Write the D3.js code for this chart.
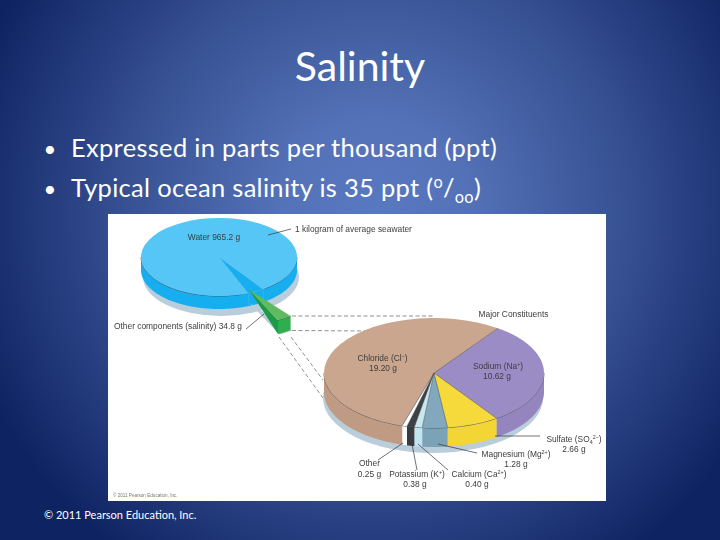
<!DOCTYPE html>
<html>
<head>
<meta charset="utf-8">
<style>html,body{margin:0;padding:0;background:#14296a}svg{display:block}</style>
<script src="https://cdn.jsdelivr.net/npm/d3@7"></script>
</head>
<body>
<svg id="c" width="720" height="540"></svg>
<script>
// ---- data ----
const outerNames = ["Water", "Other components (salinity)"];
const outerGrams = [965.2, 34.8];
const innerNames = ["Sodium", "Sulfate", "Magnesium", "Calcium", "Potassium", "Other", "Chloride"];
const innerGrams = [10.62, 2.66, 1.28, 0.40, 0.38, 0.25, 19.20];
const innerTop  = ["#9c8cc6", "#f6d93b", "#82a8be", "#c8e8f0", "#3e4145", "#ffffff", "#caa68e"];
const innerSide = ["#9485bf", "#f3d534", "#7ba2b8", "#c2e4ee", "#383b3f", "#fbfbfb", "#bf9b83"];
const slideTitle = "Salinity";
const slideFooter = "\u00a9 2011 Pearson Education, Inc.";
const panelCredit = "\u00a9 2011 Pearson Education, Inc.";
const bulletLines = ["Expressed in parts per thousand (ppt)", "Typical ocean salinity is 35 ppt (^o^/_oo_)"];
const labelTexts = ["Water 965.2 g", "1 kilogram of average seawater", "Other components (salinity) 34.8 g",
  "Major Constituents", "Chloride (Cl^\u2212^)", "19.20 g", "Sodium (Na^+^)", "10.62 g",
  "Sulfate (SO_4_^2\u2212^)", "2.66 g", "Magnesium (Mg^2+^)", "1.28 g", "Other", "0.25 g",
  "Potassium (K^+^)", "0.38 g", "Calcium (Ca^2+^)", "0.40 g"];

// ---- layout ----
const labelPos = [[214,240],[353.5,232],[178,329],[513.5,317],[382.5,361],[383,371],[498,369],[497,379],
  [574,442],[574,452],[516,457],[516,467],[369.5,466],[369.5,477],[417,477],[415,487],[479,477],[477,487]];
const leaders = [[[268,235],[291,229]],[[246,329],[264,314]],[[495,436],[540,436]],[[438,444],[477,453]],
  [[403,443],[378,460]],[[412,444],[417,470]],[[418,444],[448,470]]];
const dashes = [[[292,316],[434,316]],[[292,330.5],[368,331]],[[279,337],[323,398]],[[291,337],[323,380]]];
const rad = d => d * Math.PI / 180;
const svg = d3.select("#c");
const defs = svg.append("defs");
const grad = defs.append("radialGradient").attr("id","bg").attr("gradientUnits","userSpaceOnUse")
  .attr("cx",375).attr("cy",215).attr("r",425);
[[0,"#5878c0"],[0.22,"#5472b8"],[0.55,"#3a5596"],[0.85,"#1d3374"],[1,"#0e2361"]].forEach(s =>
  grad.append("stop").attr("offset",s[0]).attr("stop-color",s[1]));
defs.append("filter").attr("id","soft").attr("x","0").attr("y","0").attr("width","1").attr("height","1")
  .append("feGaussianBlur").attr("stdDeviation",0.42);

svg.append("rect").attr("width",720).attr("height",540).attr("fill","url(#bg)");

// slide text
const FONT = "Lato, 'Open Sans', sans-serif";
function rich(sel, s, shrink) {
  // ^x^ superscript, _x_ subscript
  const parts = s.split(/(\^[^^]*\^|_[^_]*_)/).filter(p => p.length);
  let shift = 0;
  parts.forEach(p => {
    let d = 0, t = p, small = false;
    if (p[0] === "^") { d = -shrink; t = p.slice(1,-1); small = true; }
    else if (p[0] === "_") { d = shrink * 0.7; t = p.slice(1,-1); small = true; }
    const ts = sel.append("tspan").text(t).attr("dy", d - shift);
    if (small) ts.attr("font-size", "64%");
    shift = d;
  });
}
svg.append("text").attr("x",360).attr("y",81).attr("text-anchor","middle").attr("fill","#fff")
  .attr("font-family",FONT).attr("font-size",41).text(slideTitle);
bulletLines.forEach((b,i) => {
  const y = 157 + i*40;
  svg.append("text").attr("x",43.5).attr("y",y).attr("fill","#fff").attr("font-family",FONT).attr("font-size",22).text("\u2022");
  const t = svg.append("text").attr("x",71).attr("y",y).attr("fill","#fff").attr("font-family",FONT)
    .attr("font-size",25.5).attr("letter-spacing",0.3);
  rich(t, b, 9);
});
svg.append("text").attr("x",44).attr("y",519).attr("fill","#fff").attr("font-family",FONT).attr("font-size",11).text(slideFooter);

// panel
const g = svg.append("g").attr("filter","url(#soft)");
g.append("rect").attr("x",108).attr("y",214).attr("width",498).attr("height",287).attr("fill","#fff");

g.selectAll("line.dash").data(dashes).join("line").attr("class","dash")
  .attr("x1",d=>d[0][0]).attr("y1",d=>d[0][1]).attr("x2",d=>d[1][0]).attr("y2",d=>d[1][1])
  .attr("stroke","#444").attr("stroke-width",0.6).attr("stroke-dasharray","4 2.5");

// 3-D pie helpers
function pieOf(values, startDeg) {
  return d3.pie().sort(null).value(d=>d).startAngle(rad(startDeg)).endAngle(rad(startDeg)+2*Math.PI)(values);
}
function topFace(parent, d, P, fill, stroke) {
  return parent.append("path")
    .attr("d", d3.arc().innerRadius(0).outerRadius(P.rx)({startAngle:d.startAngle,endAngle:d.endAngle}))
    .attr("transform",`translate(${P.cx},${P.cy}) scale(1,${P.ry/P.rx})`)
    .attr("fill",fill).attr("stroke",stroke||"none").attr("stroke-width",0.5).attr("vector-effect","non-scaling-stroke");
}
function rim(parent, d, P, fill, noEdge) {
  const area = d3.area().x(a=>P.cx+P.rx*Math.sin(a)).y0(a=>P.cy-P.ry*Math.cos(a)).y1(a=>P.cy-P.ry*Math.cos(a)+P.th);
  const edge = d3.line().x(a=>P.cx+P.rx*Math.sin(a)).y(a=>P.cy-P.ry*Math.cos(a));
  [-2,0,2].forEach(k => {
    const a0 = Math.max(d.startAngle, Math.PI/2 + k*Math.PI), a1 = Math.min(d.endAngle, 3*Math.PI/2 + k*Math.PI);
    if (a1 <= a0) return;
    const as = d3.range(a0, a1, 0.01).concat([a1]);
    parent.append("path").attr("d",area(as)).attr("fill",fill);
    if (!noEdge) parent.append("path").attr("d",edge(as)).attr("fill","none").attr("stroke","#3a3a3a").attr("stroke-width",0.7);
  });
}
// side wall of a cut: zero height at the apex, full height at the rim
function wall(parent, P, ang, fill) {
  const x = P.cx+P.rx*Math.sin(ang), y = P.cy-P.ry*Math.cos(ang);
  parent.append("path").attr("d",d3.line()([[P.cx,P.cy],[x,y],[x,y+P.th]])+"Z").attr("fill",fill);
}
function shadow(parent, P, dx, dy) {
  parent.append("ellipse").attr("cx",P.cx+dx).attr("cy",P.cy+dy).attr("rx",P.rx).attr("ry",P.ry).attr("fill","#b9cddb");
}

// upper pie
const U = {cx:219, cy:257, rx:78, ry:39, th:13};
const uArcs = pieOf(outerGrams, 158);
shadow(g, U, 2, 20);
rim(g, uArcs[0], U, "#17aeee");
// notch in the upper pie
rim(g, uArcs[1], U, "#19aeee", true);
topFace(g, uArcs[1], U, "#19aeee");
wall(g, U, uArcs[1].endAngle % (2*Math.PI), "#19aeee");
topFace(g, uArcs[0], U, "#56c6f6");

// green pulled-out wedge (same slice, drawn enlarged out of the pie)
const W = {cx:248.7, cy:289.3, rx:68, ry:34, th:14};
const turn = rad(-3.5);
const wd = {startAngle:uArcs[1].startAngle+turn, endAngle:uArcs[1].endAngle+turn};
g.append("path").attr("d", d3.arc().innerRadius(0).outerRadius(W.rx+1)(wd))
  .attr("transform",`translate(${W.cx+1},${W.cy+14}) scale(1,0.5)`).attr("fill","#b9cddb");
wall(g, W, wd.endAngle, "#1f9a45");
rim(g, wd, W, "#2fae4f");
topFace(g, wd, W, "#5fba60");

// lower pie
const L = {cx:434, cy:373, rx:110, ry:55, th:19};
const lArcs = pieOf(innerGrams, 35.5);
shadow(g, L, -1, 25);
lArcs.forEach((d,i) => rim(g, d, L, innerSide[i]));
lArcs.forEach((d,i) => topFace(g, d, L, innerTop[i]));
// thin slice separators on the top face
lArcs.forEach(d => {
  const a = d.startAngle;
  g.append("line").attr("x1",L.cx).attr("y1",L.cy)
    .attr("x2",L.cx+L.rx*Math.sin(a)).attr("y2",L.cy-L.ry*Math.cos(a))
    .attr("stroke","#4a4a4a").attr("stroke-width",0.5);
});

// labels and leaders
g.selectAll("line.lead").data(leaders).join("line").attr("class","lead")
  .attr("x1",d=>d[0][0]).attr("y1",d=>d[0][1]).attr("x2",d=>d[1][0]).attr("y2",d=>d[1][1])
  .attr("stroke","#333").attr("stroke-width",0.7);
labelTexts.forEach((s,i) => {
  const t = g.append("text").attr("x",labelPos[i][0]).attr("y",labelPos[i][1]).attr("text-anchor","middle")
    .attr("fill","#3c3c3c").attr("font-family","'Liberation Sans', Arial, sans-serif").attr("font-size",8.4);
  rich(t, s, 3);
});
g.append("text").attr("x",113).attr("y",497).attr("fill","#777")
  .attr("font-family","'Liberation Sans', Arial, sans-serif").attr("font-size",4.6).text(panelCredit);
</script>
</body>
</html>
